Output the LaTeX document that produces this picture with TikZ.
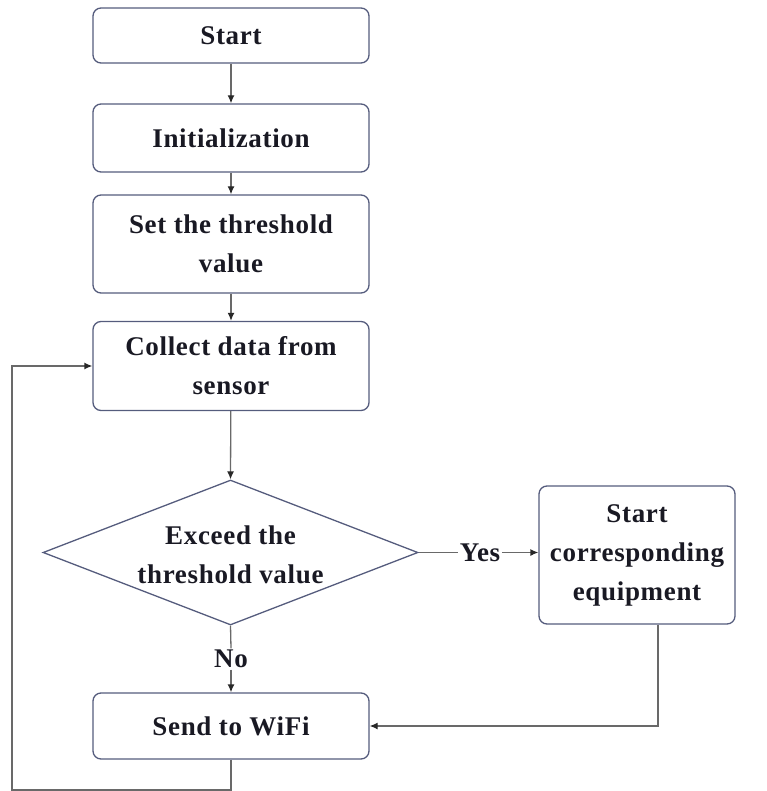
\documentclass[tikz,border=0pt]{standalone}
\usepackage{fontspec}
\setmainfont[LetterSpace=2.5]{Liberation Serif}
\usetikzlibrary{shapes.geometric,arrows.meta}
\definecolor{boxc}{RGB}{85,92,125}
\definecolor{linec}{RGB}{105,105,105}
\definecolor{tipc}{RGB}{40,40,40}
\definecolor{txtc}{RGB}{25,25,35}
\newcommand\flowtxt{\fontsize{27}{39}\selectfont\bfseries}
\begin{document}
\begin{tikzpicture}[x=1pt,y=-1pt,
  stepbox/.style={draw=boxc, line width=1.3pt, rounded corners=8pt, minimum width=276pt,
    inner sep=0pt, align=center, font=\flowtxt, text=txtc},
  decision/.style={draw=boxc, line width=1.3pt, shape=diamond, minimum width=375pt,
    minimum height=145pt, inner sep=0pt},
  lbl/.style={font=\flowtxt, text=txtc, inner sep=1.5pt, align=center},
  conn/.style={draw=linec, line width=1.3pt},
  arr/.style={conn, -{Latex[length=8pt,width=7pt,color=tipc]}}]
\useasboundingbox (0,0) rectangle (766,791);

\node[stepbox, minimum height=55pt] (start) at (231,35.5) {Start};
\node[stepbox, minimum height=68pt] (init) at (231,138) {Initialization};
\node[stepbox, minimum height=98pt] (thr) at (231,244) {Set the threshold\\value};
\node[stepbox, minimum height=89pt] (col) at (231,366) {Collect data from\\sensor};
\node[decision] (dec) at (230.5,552.5) {};
\node[lbl] (dectxt) at ([yshift=-2pt]dec.center) {Exceed the\\threshold value};
\node[stepbox, minimum width=196pt, minimum height=138pt] (eq) at (637,555) {Start\\corresponding\\equipment};
\node[stepbox, minimum height=66pt] (send) at (231,726) {Send to WiFi};
\node[lbl] (yes) at (480,552.5) {Yes};
\node[lbl] (no) at (231,659) {No};

\coordinate (eqb) at ([xshift=21pt]eq.south);
\coordinate (lb) at (12,790);

\draw[arr] (start) -- (init);
\draw[arr] (init) -- (thr);
\draw[arr] (thr) -- (col);
\draw[arr] (col) -- (dec.north);
\draw[conn] (dec.east) -- (yes.west);
\draw[arr] (yes.east) -- (yes.east -| eq.west);
\draw[conn] (dec.south) -- (no.north);
\draw[arr] (no.south) -- (send.north);
\draw[arr] (eqb) |- (send.east);
\draw[arr] (send.south) |- (lb) |- (col.west);
\end{tikzpicture}
\end{document}
